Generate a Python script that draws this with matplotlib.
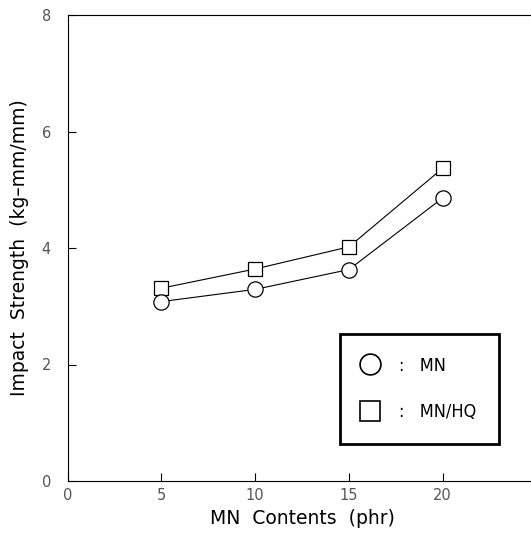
import matplotlib
matplotlib.use("Agg")
import matplotlib.pyplot as plt
from matplotlib.lines import Line2D
from matplotlib.font_manager import FontProperties

x = [5, 10, 15, 20]
mn = [3.08, 3.29, 3.63, 4.86]
mn_hq = [3.31, 3.64, 4.02, 5.37]
xticks = [0, 5, 10, 15, 20]
yticks = [0, 2, 4, 6, 8]

fig = plt.figure(figsize=(5.31, 5.33), dpi=100)
ax = fig.add_axes([67.7 / 531, 52 / 533, 468.8 / 531, 466 / 533])

ax.plot(x, mn, color="black", lw=0.8, marker="o", ms=11, mfc="white", mec="black", mew=0.9, zorder=3)
ax.plot(x, mn_hq, color="black", lw=0.8, marker="s", ms=10, mfc="white", mec="black", mew=0.9, zorder=2)

ax.set_xlim(0, 25)
ax.set_ylim(0, 8)
ax.set_xticks(xticks)
ax.set_yticks(yticks)
ax.tick_params(direction="in", length=6, width=0.8, labelsize=10.5, labelcolor="#555555")
ax.tick_params(axis="x", pad=5)
ax.tick_params(axis="y", pad=12)
for s in ax.spines.values():
    s.set_linewidth(0.8)

ax.set_xlabel("MN  Contents  (phr)", fontsize=13.5, labelpad=4)
ax.set_ylabel("Impact  Strength  (kg\u2013mm/mm)", fontsize=13.5, labelpad=9)

handles = [
    Line2D([], [], ls="none", marker="o", ms=15, mfc="white", mec="black", mew=1.2),
    Line2D([], [], ls="none", marker="s", ms=14, mfc="white", mec="black", mew=1.2),
]
labels = [":   MN", ":   MN/HQ"]
lprop = FontProperties(family="DejaVu Sans", stretch="condensed", size=13)
leg = ax.legend(handles, labels, loc="upper left",
                bbox_to_anchor=(340 / 531, 1 - 334 / 533), bbox_transform=fig.transFigure,
                prop=lprop,
                frameon=True, fancybox=False, edgecolor="black",
                borderpad=1.25, labelspacing=1.6, handlelength=0.8, handletextpad=1.2,
                borderaxespad=0)
leg.get_frame().set_linewidth(2)
leg.get_frame().set_alpha(1)

fig.savefig("out.png", dpi=100)
